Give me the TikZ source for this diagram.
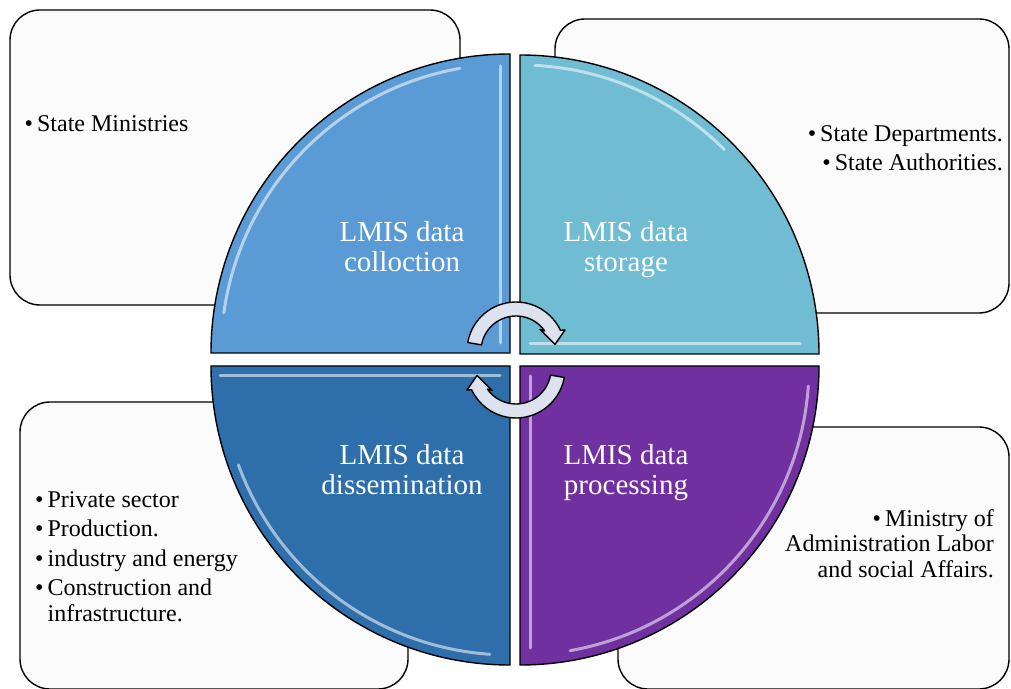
\documentclass[tikz,border=0pt]{standalone}
\usepackage{fontspec}
\setmainfont{Liberation Serif}
\definecolor{qa}{RGB}{91,155,213}
\definecolor{qb}{RGB}{112,188,210}
\definecolor{qc}{RGB}{46,110,170}
\definecolor{qd}{RGB}{112,48,160}
\definecolor{boxfill}{RGB}{251,251,251}
\definecolor{arrfill}{RGB}{220,227,238}
\tikzset{
 infobox/.style={draw=black, line width=1.4pt, fill=boxfill, rounded corners=30pt, inner sep=0pt},
 quad/.style={draw=black, line width=1.4pt},
 hl/.style={draw=white, draw opacity=0.55, line width=3pt, line cap=round},
 qlabel/.style={text=white, font=\fontsize{29}{31}\selectfont, anchor=base, inner sep=0pt},
 btext/.style={text=black, font=\fontsize{24}{28}\selectfont, inner sep=0pt},
 cyc/.style={draw=black, line width=1.4pt, fill=arrfill, line join=round},
}
\begin{document}
\begin{tikzpicture}[x=1pt,y=1pt]
\useasboundingbox (0,0) rectangle (1011,688);
% info boxes
\node[infobox, minimum width=450pt, minimum height=295pt] (boxTL) at (235,530.5) {};
\node[infobox, minimum width=454pt, minimum height=294pt] (boxTR) at (782,522) {};
\node[infobox, minimum width=388pt, minimum height=287pt] (boxBL) at (214,142.5) {};
\node[infobox, minimum width=391pt, minimum height=262pt] (boxBR) at (813.5,130) {};
% quadrants
\draw[quad, fill=qa] (510,335) -- (211,335) arc[start angle=180,end angle=90,radius=299pt] -- cycle;
\draw[quad, fill=qb] (520,334) -- (520,633) arc[start angle=90,end angle=0,radius=299pt] -- cycle;
\draw[quad, fill=qc] (510,322) -- (211,322) arc[start angle=180,end angle=270,radius=299pt] -- cycle;
\draw[quad, fill=qd] (520,322) -- (819,322) arc[start angle=0,end angle=-90,radius=299pt] -- cycle;
% highlights
\draw[hl] ([shift={(510,335)}]172:289pt) arc[start angle=172,end angle=100,radius=289pt];
\draw[hl] (500,345) -- (500,622);
\draw[hl] ([shift={(520,334)}]87:289pt) arc[start angle=87,end angle=45,radius=289pt];
\draw[hl] (530,344) -- (800,344);
\draw[hl] (220,312) -- (500,312);
\draw[hl] ([shift={(510,322)}]200:289pt) arc[start angle=200,end angle=266,radius=289pt];
\draw[hl] (530,312) -- (530,40);
\draw[hl] ([shift={(520,322)}]-4:289pt) arc[start angle=-4,end angle=-80,radius=289pt];
% quadrant labels
\node[qlabel] (l1a) at (402,446) {LMIS data};
\node[qlabel] (l1b) at (402,416) {colloction};
\node[qlabel] (l2a) at (626,446) {LMIS data};
\node[qlabel] (l2b) at (626,416) {storage};
\node[qlabel] (l3a) at (402,223) {LMIS data};
\node[qlabel] (l3b) at (402,193) {dissemination};
\node[qlabel] (l4a) at (626,223) {LMIS data};
\node[qlabel] (l4b) at (626,193) {processing};
% box texts
\node[btext, anchor=base west] (t1) at (24.5,556) {\textbullet\hspace{4pt}State Ministries};
\node[btext, anchor=base east] (t2a) at (1003,546) {\textbullet\hspace{4pt}State Departments.};
\node[btext, anchor=base east] (t2b) at (1003,517) {\textbullet\hspace{4pt}State Authorities.};
\node[btext, anchor=base east] (t4a) at (994,161) {\textbullet\hspace{4pt}Ministry of};
\node[btext, anchor=base east] (t4b) at (994,136) {Administration Labor};
\node[btext, anchor=base east] (t4c) at (994,111) {and social Affairs.};
\node[btext, anchor=base west] (t3a) at (35,180) {\textbullet\hspace{4pt}Private sector};
\node[btext, anchor=base west] (t3b) at (35,151) {\textbullet\hspace{4pt}Production.};
\node[btext, anchor=base west] (t3c) at (35,122) {\textbullet\hspace{4pt}industry and energy};
\node[btext, anchor=base west] (t3d) at (35,93) {\textbullet\hspace{4pt}Construction and};
\node[btext, anchor=base west] (t3e) at (47.4,67) {infrastructure.};
% cycle arrows
\begin{scope}[shift={(516,337)}]
\draw[cyc] (170:49pt) arc[start angle=170,end angle=25,radius=49pt] -- (49,21) -- (39,6.5) -- (24,21.5) -- (35:35pt) arc[start angle=35,end angle=170,radius=35pt] -- cycle;
\end{scope}
\begin{scope}[shift={(516,319)},rotate=180]
\draw[cyc] (170:49pt) arc[start angle=170,end angle=25,radius=49pt] -- (49,21) -- (39,6.5) -- (24,21.5) -- (35:35pt) arc[start angle=35,end angle=170,radius=35pt] -- cycle;
\end{scope}
\end{tikzpicture}
\end{document}
